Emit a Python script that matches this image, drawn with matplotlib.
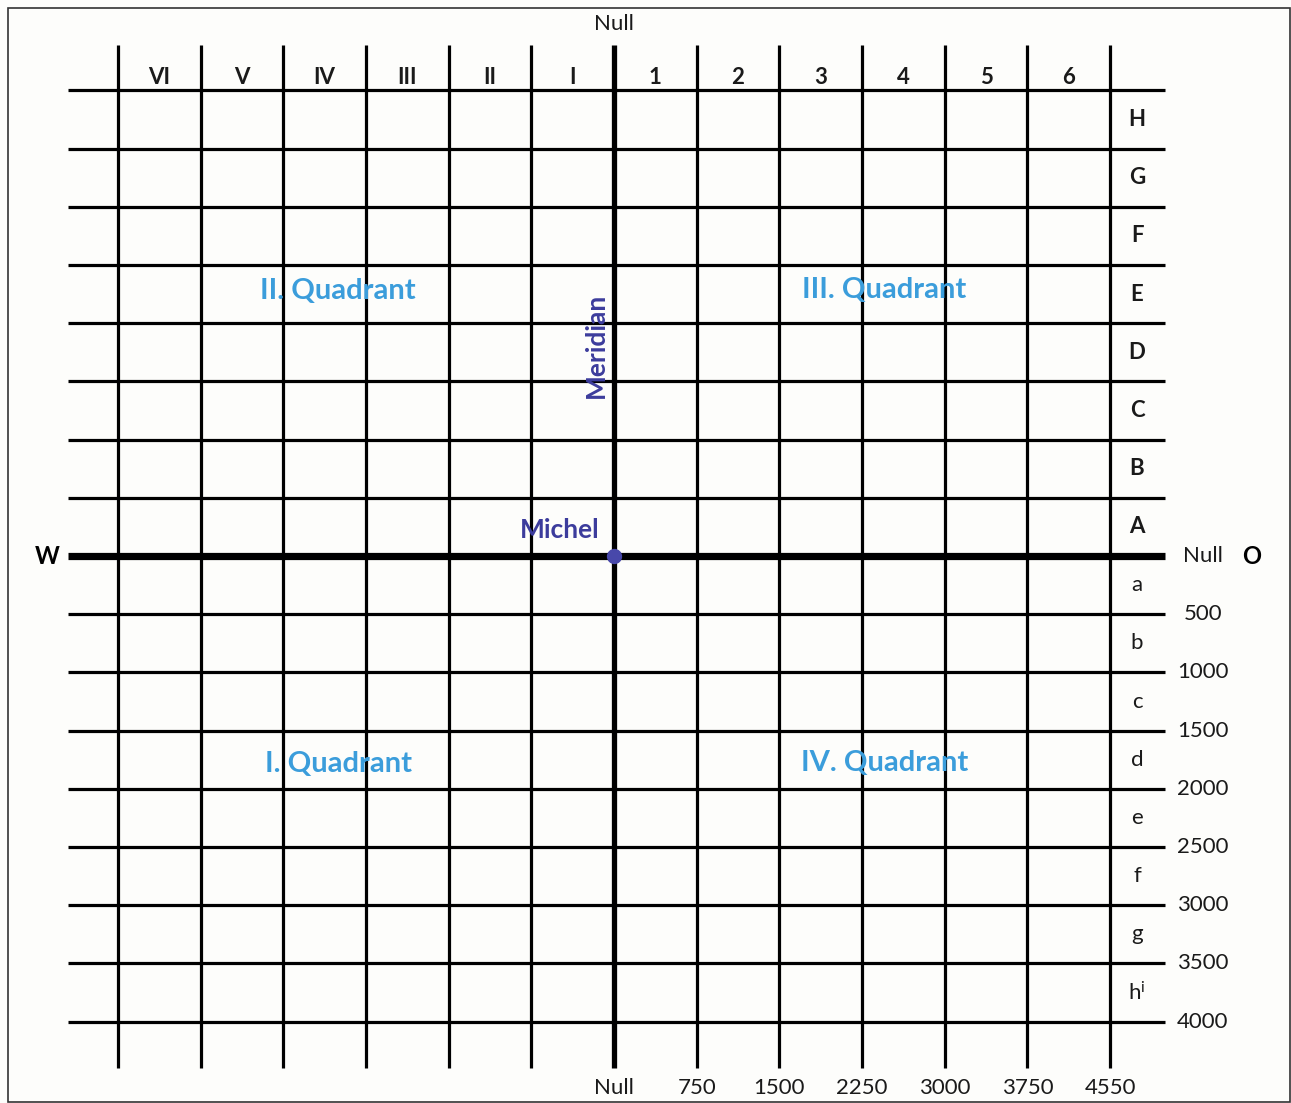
import matplotlib
matplotlib.use("Agg")
import matplotlib.pyplot as plt
from matplotlib.patches import Rectangle

plt.rcParams['font.family'] = ['Lato', 'DejaVu Sans']
plt.rcParams['mathtext.default'] = 'regular'

# ---- data ----
west_cols = ['VI', 'V', 'IV', 'III', 'II', 'I']
east_cols = ['1', '2', '3', '4', '5', '6']
north_rows = ['A', 'B', 'C', 'D', 'E', 'F', 'G', 'H']          # from equator upwards
south_rows = ['a', 'b', 'c', 'd', 'e', 'f', 'g', r'h$^{i}$']    # from equator downwards
south_values = ['Null', '500', '1000', '1500', '2000', '2500', '3000', '3500', '4000']
east_values = ['Null', '750', '1500', '2250', '3000', '3750', '4550']
quadrants = ['I. Quadrant', 'II. Quadrant', 'III. Quadrant', 'IV. Quadrant']
n_cols = 6
n_rows = 8

# ---- figure ----
W, H = 1291, 1103
fig = plt.figure(figsize=(W / 100, H / 100), dpi=100)
fig.patch.set_facecolor('#fdfdfb')
ax = fig.add_axes([0, 0, 1, 1])
ax.set_facecolor('#fdfdfb')

x0, dx = 614, 82.67
y0, dy = 556, 58.2
ax.set_xlim((0 - x0) / dx, (W - x0) / dx)
ax.set_ylim((y0 - H) / dy, y0 / dy)
ax.axis('off')

vtop, vbot = (y0 - 45) / dy, (y0 - 1068) / dy
hleft, hright = (68 - x0) / dx, (1165 - x0) / dx

# vertical lines
for i in range(-n_cols, n_cols + 1):
    lw = 3.8 if i == 0 else 2.3
    ax.plot([i, i], [vbot, vtop], color='black', lw=lw, solid_capstyle='butt', zorder=2)
# horizontal lines
for j in range(-n_rows, n_rows + 1):
    lw = 5.2 if j == 0 else 2.3
    ax.plot([hleft, hright], [j, j], color='black', lw=lw, solid_capstyle='butt', zorder=2)

txt = '#1a1a1a'
fs_lab = 16
ytop_lab = (y0 - 77) / dy
for k, lab in enumerate(west_cols):
    ax.text(-n_cols + k + 0.5, ytop_lab, lab, ha='center', va='center', fontsize=fs_lab,
            color=txt, fontweight='bold')
for k, lab in enumerate(east_cols):
    ax.text(k + 0.5, ytop_lab, lab, ha='center', va='center', fontsize=fs_lab,
            color=txt, fontweight='bold')

xrow = (1137 - x0) / dx
for k, lab in enumerate(north_rows):
    ax.text(xrow, k + 0.5, lab, ha='center', va='center', fontsize=fs_lab, color=txt,
            fontweight='bold')
for k, lab in enumerate(south_rows):
    ax.text(xrow, -k - 0.5, lab, ha='center', va='center', fontsize=fs_lab, color=txt)

xval = (1203 - x0) / dx
for k, lab in enumerate(south_values):
    ax.text(xval, -k, lab, ha='center', va='center', fontsize=fs_lab, color=txt)

ybot = (y0 - 1088) / dy
for k, lab in enumerate(east_values):
    ax.text(k, ybot, lab, ha='center', va='center', fontsize=fs_lab, color=txt)

ax.text(0, (y0 - 24) / dy, 'Null', ha='center', va='center', fontsize=fs_lab, color=txt)
ax.text((47 - x0) / dx, 0, 'W', ha='center', va='center', fontsize=17, fontweight='bold', color='black')
ax.text((1252 - x0) / dx, 0, 'O', ha='center', va='center', fontsize=17, fontweight='bold', color='black')

qcol = '#3b9ddb'
qpos = {
    'I. Quadrant': (338, 764),
    'II. Quadrant': (338, 291),
    'III. Quadrant': (884, 290),
    'IV. Quadrant': (885, 763),
}
for q in quadrants:
    px, py = qpos[q]
    ax.text((px - x0) / dx, (y0 - py) / dy, q, ha='center', va='center',
            fontsize=21, color=qcol, fontweight='bold', zorder=3)

dark = '#3c3c9c'
ax.text((596 - x0) / dx, (y0 - 345) / dy, 'Meridian', rotation=90, ha='center', va='center',
        fontsize=19, color=dark, fontweight='bold', zorder=3)
ax.text((560 - x0) / dx, (y0 - 530) / dy, 'Michel', ha='center', va='center',
        fontsize=19, color=dark, fontweight='bold', zorder=3)
ax.plot([0], [0], 'o', color='#4848aa', markersize=10, zorder=4)

# frame
fx0, fy0 = (8 - x0) / dx, (y0 - 8) / dy
fx1, fy1 = (1290 - x0) / dx, (y0 - 1102) / dy
ax.add_patch(Rectangle((fx0, fy1), fx1 - fx0, fy0 - fy1, fill=False, edgecolor='#333333', lw=1.2, zorder=1))

fig.savefig('out.png', dpi=100, facecolor=fig.get_facecolor())
